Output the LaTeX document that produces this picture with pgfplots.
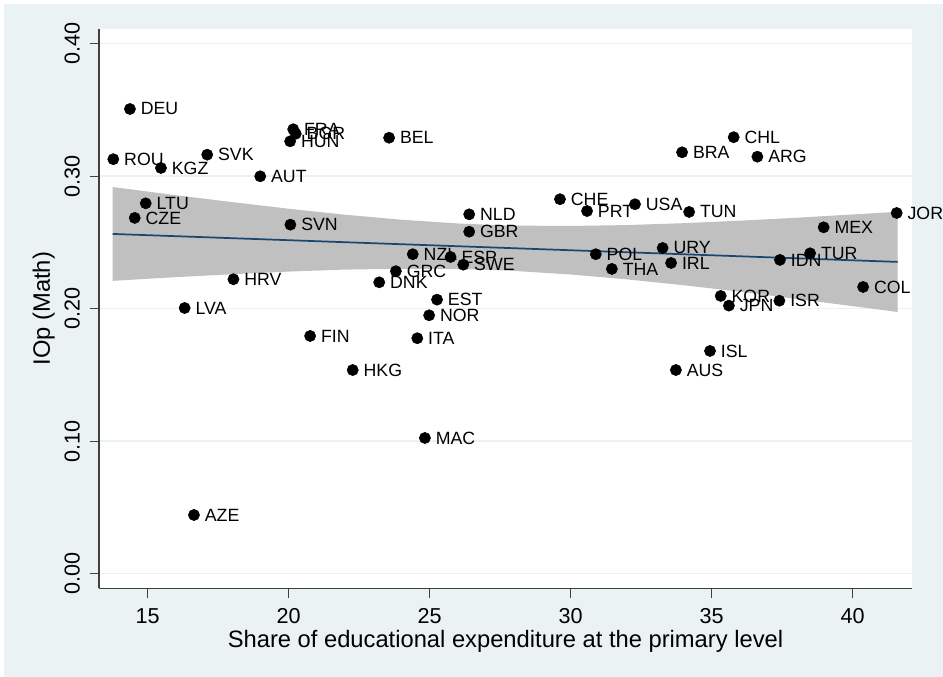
\documentclass[border=0pt]{standalone}
\usepackage{fontspec}
\setmainfont{Liberation Sans}
\usepackage{pgfplots}
\usepackage{pgfplotstable}
\pgfplotsset{compat=1.18}

\definecolor{stbg}{HTML}{EAF2F3}
\definecolor{stnavy}{HTML}{1A476F}
\definecolor{stci}{HTML}{C0C0C0}

% countries: share of primary expenditure vs IOp (Math)
\pgfplotstableread{
lab x y
AZE 16.64 0.0443
DEU 14.37 0.3507
ROU 13.78 0.3128
KGZ 15.47 0.3062
SVK 17.11 0.3162
LTU 14.93 0.2795
CZE 14.54 0.2685
AUT 18.99 0.2999
FRA 20.16 0.3354
BGR 20.25 0.3320
HUN 20.05 0.3263
BEL 23.56 0.3290
SVN 20.06 0.2634
HRV 18.04 0.2222
LVA 16.31 0.2005
FIN 20.76 0.1794
HKG 22.27 0.1537
DNK 23.21 0.2199
GRC 23.80 0.2283
NZL 24.40 0.2411
ESP 25.74 0.2390
SWE 26.19 0.2332
NLD 26.40 0.2712
GBR 26.40 0.2581
EST 25.26 0.2068
NOR 24.98 0.1950
ITA 24.56 0.1777
MAC 24.83 0.1024
CHE 29.62 0.2826
PRT 30.58 0.2737
POL 30.89 0.2411
THA 31.46 0.2300
USA 32.28 0.2788
URY 33.26 0.2458
IRL 33.56 0.2345
BRA 33.95 0.3180
TUN 34.20 0.2730
AUS 33.73 0.1537
ISL 34.94 0.1681
KOR 35.32 0.2096
JPN 35.61 0.2023
CHL 35.78 0.3294
ARG 36.62 0.3147
ISR 37.40 0.2060
IDN 37.42 0.2368
TUR 38.49 0.2418
MEX 38.97 0.2614
COL 40.37 0.2164
JOR 41.56 0.2722
}\pts

% fitted line
\pgfplotstableread{
x fit
13.76 0.2564
41.59 0.2353
}\fit

% confidence band outline: upper edge left to right, lower edge back
\pgfplotstableread{
x y
13.76 0.2918
16    0.2856
18    0.2804
20    0.2754
22    0.2709
24    0.2671
26    0.2643
27.09 0.2633
28    0.2627
30    0.2624
32    0.2631
34    0.2645
36    0.2664
38    0.2686
40    0.2711
41.59 0.2731
41.59 0.1975
40    0.2019
38    0.2074
36    0.2128
34    0.2177
32    0.2221
30    0.2258
28    0.2285
27.09 0.2293
26    0.2299
24    0.2301
22    0.2295
20    0.2280
18    0.2260
16    0.2238
13.76 0.2210
}\band

\begin{document}
\begin{tikzpicture}
\fill[white] (-74.25pt,-66.525pt) rectangle (633pt,441.225pt);
\fill[stbg] (-71.25pt,-66.525pt) rectangle (633pt,438.225pt);
\begin{axis}[
  at={(0,0)}, anchor=south west,
  scale only axis, width=609.75pt, height=419.5pt,
  xmin=13.273, xmax=42.103, ymin=-0.01102, ymax=0.41109,
  axis lines*=left,
  axis line style={black!75, line width=0.9pt},
  axis background/.style={fill=white},
  tick align=outside, major tick length=7pt,
  tick style={black!75, line width=0.9pt},
  xtick={15,20,...,40}, ytick={0,0.1,0.2,0.3,0.4},
  ymajorgrids, grid style={stbg, line width=1.2pt},
  /pgf/number format/assume math mode=true,
  ticklabel style={font=\fontsize{16.2}{19}\selectfont, inner sep=0pt},
  xticklabel style={anchor=north},
  xticklabel shift=7.8pt,
  yticklabel style={rotate=90, anchor=south,
    /pgf/number format/fixed, /pgf/number format/fixed zerofill,
    /pgf/number format/precision=2},
  yticklabel shift=7.25pt,
  label style={font=\fontsize{17.8}{21}\selectfont, inner sep=0pt},
  xlabel={Share of educational expenditure at the primary level},
  xlabel style={at={(axis description cs:0.5,-0.105)}, anchor=base},
  ylabel={IOp (Math)},
  ylabel style={at={(axis description cs:-0.0603,0.5)}, anchor=base},
  clip=false,
]
\addplot[fill=stci, draw=none] table[x=x, y=y] {\band};
\addplot[stnavy, line width=1.3pt, no marks] table[x=x, y=fit] {\fit};
\addplot[only marks, mark=*, mark size=4.2pt, black,
  nodes near coords, point meta=explicit symbolic,
  every node near coord/.append style={anchor=west, xshift=8pt,
    inner sep=0pt, font=\fontsize{13.3}{15}\selectfont, text=black}]
  table[x=x, y=y, meta=lab] {\pts};
\end{axis}
\pgfresetboundingbox
\useasboundingbox (-74.25pt,-66.525pt) rectangle (633pt,441.225pt);
\end{tikzpicture}
\end{document}
